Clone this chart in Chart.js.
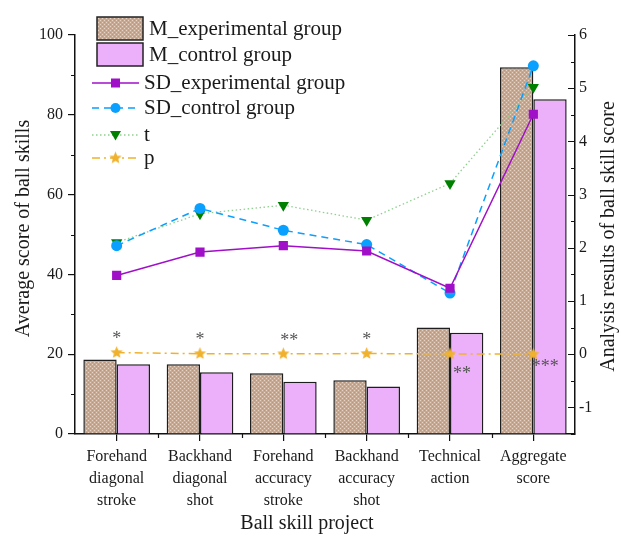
<!DOCTYPE html>
<html>
<head>
<meta charset="utf-8">
<script src="https://cdn.jsdelivr.net/npm/chart.js@4.4.1/dist/chart.umd.min.js"></script>
<style>
  html, body { margin: 0; padding: 0; background: #fff; }
</style>
</head>
<body>
<canvas id="chart" width="621" height="536"></canvas>
<script>
// Data
const categories = [
    ['Forehand', 'diagonal', 'stroke'],
    ['Backhand', 'diagonal', 'shot'],
    ['Forehand', 'accuracy', 'stroke'],
    ['Backhand', 'accuracy', 'shot'],
    ['Technical', 'action'],
    ['Aggregate', 'score']
];
const mExperimental = [18.7, 17.5, 15.2, 13.5, 26.7, 91.9];
const mControl = [17.5, 15.5, 13.1, 11.9, 25.4, 83.9];
const sdExperimental = [1.48, 1.92, 2.04, 1.94, 1.24, 4.51];
const sdControl = [2.04, 2.74, 2.33, 2.06, 1.15, 5.42];
const tValues = [2.10, 2.64, 2.80, 2.52, 3.21, 5.02];
const pValues = [0.03, 0.01, 0.008, 0.012, 0.006, 0.001];
const sigMarks = ['*', '*', '**', '*', '**', '***'];

const FONT = "'Liberation Serif', 'Times New Roman', serif";
const COL_SD_EXP = '#a010c8';
const COL_SD_CTRL = '#0aa0ff';
const COL_T_LINE = '#8fd08f';
const COL_T_MARK = '#008000';
const COL_P = '#f0b22e';
const COL_CTRL_BAR = '#ecb0fa';

// Textured tan fill for the experimental bars
function makeTexture() {
    let c = document.createElement('canvas');
    c.width = 4; c.height = 4;
    let g = c.getContext('2d');
    g.fillStyle = '#caa890';
    g.fillRect(0, 0, 4, 4);
    g.fillStyle = '#e6d4c6';
    g.fillRect(0, 0, 1, 1);
    g.fillRect(2, 2, 1, 1);
    g.fillStyle = '#b9977e';
    g.fillRect(2, 0, 1, 1);
    g.fillRect(0, 2, 1, 1);
    return g.createPattern(c, 'repeat');
}

function starPath(g, cx, cy, ro, ri) {
    g.beginPath();
    for (let i = 0; i < 10; i++) {
        let r = i % 2 === 0 ? ro : ri;
        let a = -Math.PI / 2 + i * Math.PI / 5;
        let px = cx + r * Math.cos(a), py = cy + r * Math.sin(a);
        if (i === 0) g.moveTo(px, py); else g.lineTo(px, py);
    }
    g.closePath();
}

function makeStar(r, color) {
    let c = document.createElement('canvas');
    let s = Math.ceil(r * 2 + 2);
    c.width = s; c.height = s;
    let g = c.getContext('2d');
    starPath(g, s / 2, s / 2, r, r * 0.45);
    g.fillStyle = color;
    g.fill();
    return c;
}

const texture = makeTexture();
const starImg = makeStar(6.5, COL_P);

// Minor ticks, inward right ticks, annotations, axis titles and legend
const extras = {
    id: 'extras',
    afterDraw(chart) {
        const ctx = chart.ctx;
        const xs = chart.scales.x, yl = chart.scales.y, yr = chart.scales.y1;
        const area = chart.chartArea;
        ctx.save();
        ctx.strokeStyle = '#111';
        ctx.lineWidth = 1.2;
        ctx.beginPath();
        // Left minor ticks
        for (let v = 10; v < 100; v += 20) {
            let py = Math.round(yl.getPixelForValue(v)) + 0.5;
            ctx.moveTo(area.left - 4, py); ctx.lineTo(area.left, py);
        }
        // Right ticks pointing inward
        for (let v = -1.5; v <= 6; v += 0.5) {
            let py = Math.round(yr.getPixelForValue(v)) + 0.5;
            let len = Number.isInteger(v) ? 7 : 4;
            ctx.moveTo(area.right - len, py); ctx.lineTo(area.right, py);
        }
        // Bottom minor ticks at category boundaries
        let w = (area.right - area.left) / categories.length;
        for (let i = 1; i < categories.length; i++) {
            let px = Math.round(area.left + i * w) + 0.5;
            ctx.moveTo(px, area.bottom); ctx.lineTo(px, area.bottom + 4);
        }
        ctx.stroke();

        // Significance marks
        ctx.fillStyle = '#555';
        ctx.font = '18px ' + FONT;
        ctx.textAlign = 'center';
        ctx.textBaseline = 'middle';
        sigMarks.forEach((m, i) => {
            let px = xs.getPixelForValue(i);
            let py = yr.getPixelForValue(pValues[i]);
            if (i < 4) {
                ctx.fillText(m, px + (m.length > 1 ? 6 : 0), py - 13);
            } else if (i === 4) {
                ctx.fillText(m, px + 12, py + 20);
            } else {
                ctx.fillText(m, px + 12, py + 13);
            }
        });

        // Axis titles
        ctx.fillStyle = '#1a1a1a';
        ctx.font = '20px ' + FONT;
        ctx.save();
        ctx.translate(24, (area.top + area.bottom) / 2 - 6);
        ctx.rotate(-Math.PI / 2);
        ctx.fillText('Average score of ball skills', 0, 0);
        ctx.restore();
        ctx.save();
        ctx.translate(609, (area.top + area.bottom) / 2 + 2);
        ctx.rotate(-Math.PI / 2);
        ctx.fillText('Analysis results of ball skill score', 0, 0);
        ctx.restore();
        ctx.fillText('Ball skill project', 307, 524);

        // Legend
        ctx.font = '21px ' + FONT;
        ctx.textAlign = 'left';
        ctx.lineWidth = 1.5;
        ctx.strokeStyle = '#222';
        ctx.fillStyle = texture;
        ctx.fillRect(97, 17, 46, 23);
        ctx.strokeRect(97, 17, 46, 23);
        ctx.fillStyle = COL_CTRL_BAR;
        ctx.fillRect(97, 43, 46, 23);
        ctx.strokeRect(97, 43, 46, 23);
        ctx.fillStyle = '#1a1a1a';
        ctx.fillText('M_experimental group', 149, 29);
        ctx.fillText('M_control group', 149, 55);

        const lineItems = [
            { label: 'SD_experimental group', y: 83, color: COL_SD_EXP, dash: [], mark: 'rect' },
            { label: 'SD_control group', y: 108, color: COL_SD_CTRL, dash: [7, 5], mark: 'circle' },
            { label: 't', y: 135, color: COL_T_LINE, dash: [1.5, 2.5], mark: 'tri' },
            { label: 'p', y: 158, color: COL_P, dash: [8, 4, 2, 4], mark: 'star' }
        ];
        for (let it of lineItems) {
            ctx.save();
            ctx.strokeStyle = it.color;
            ctx.lineWidth = 1.5;
            ctx.setLineDash(it.dash);
            ctx.beginPath();
            ctx.moveTo(92, it.y); ctx.lineTo(139, it.y);
            ctx.stroke();
            ctx.restore();
            let cx = 115.5;
            if (it.mark === 'rect') {
                ctx.fillStyle = it.color;
                ctx.fillRect(cx - 4.5, it.y - 4.5, 9, 9);
            } else if (it.mark === 'circle') {
                ctx.fillStyle = it.color;
                ctx.beginPath(); ctx.arc(cx, it.y, 5, 0, Math.PI * 2); ctx.fill();
            } else if (it.mark === 'tri') {
                ctx.fillStyle = COL_T_MARK;
                ctx.beginPath();
                ctx.moveTo(cx - 5.5, it.y - 4); ctx.lineTo(cx + 5.5, it.y - 4); ctx.lineTo(cx, it.y + 5.5);
                ctx.closePath(); ctx.fill();
            } else {
                ctx.drawImage(starImg, cx - starImg.width / 2, it.y - starImg.height / 2);
            }
            ctx.fillStyle = '#1a1a1a';
            ctx.fillText(it.label, 144, it.y);
        }
        ctx.restore();
    }
};

const ctx = document.getElementById('chart');
new Chart(ctx, {
    type: 'bar',
    data: {
        labels: categories,
        datasets: [
            {
                label: 'SD_experimental group', type: 'line', data: sdExperimental, yAxisID: 'y1', order: 0,
                borderColor: COL_SD_EXP, backgroundColor: COL_SD_EXP, borderWidth: 1.5,
                pointStyle: 'rect', pointRadius: 6.5, pointBorderWidth: 0
            },
            {
                label: 'SD_control group', type: 'line', data: sdControl, yAxisID: 'y1', order: 0,
                borderColor: COL_SD_CTRL, backgroundColor: COL_SD_CTRL, borderWidth: 1.5, borderDash: [7, 5],
                pointStyle: 'circle', pointRadius: 5.5, pointBorderWidth: 0
            },
            {
                label: 't', type: 'line', data: tValues, yAxisID: 'y1', order: 0,
                borderColor: COL_T_LINE, backgroundColor: COL_T_MARK, borderWidth: 1.3, borderDash: [1.5, 2.5],
                pointStyle: 'triangle', pointRotation: 180, pointRadius: 6.5, pointBorderWidth: 0
            },
            {
                label: 'p', type: 'line', data: pValues, yAxisID: 'y1', order: 0,
                borderColor: COL_P, backgroundColor: COL_P, borderWidth: 1.5, borderDash: [8, 4, 2, 4],
                pointStyle: starImg
            },
            {
                label: 'M_experimental group', data: mExperimental, yAxisID: 'y', order: 1,
                backgroundColor: texture, borderColor: '#1e1e1e', borderWidth: 1.5,
                categoryPercentage: 0.8, barPercentage: 1.0
            },
            {
                label: 'M_control group', data: mControl, yAxisID: 'y', order: 1,
                backgroundColor: COL_CTRL_BAR, borderColor: '#1e1e1e', borderWidth: 1.5,
                categoryPercentage: 0.8, barPercentage: 1.0
            }
        ]
    },
    options: {
        responsive: false,
        animation: false,
        layout: { padding: { top: 35, left: 0, right: 0, bottom: 0 } },
        plugins: { legend: { display: false }, tooltip: { enabled: false } },
        scales: {
            x: {
                offset: true,
                grid: { display: true, drawOnChartArea: false, drawTicks: true, tickLength: 7, offset: false, color: '#111', lineWidth: 1.2 },
                border: { display: true, color: '#111', width: 1.5 },
                ticks: { font: { family: FONT, size: 16, lineHeight: 1.375 }, color: '#1a1a1a', padding: 5, maxRotation: 0, autoSkip: false },
                afterFit(scale) { scale.height = 102; }
            },
            y: {
                position: 'left',
                min: 0, max: 100,
                grid: {
                    display: true, drawOnChartArea: false, drawTicks: true, tickLength: 7, lineWidth: 1.2,
                    tickColor: c => (c.tick && c.tick.value % 20 === 0) ? '#111' : 'rgba(0,0,0,0)'
                },
                border: { display: true, color: '#111', width: 1.5 },
                ticks: {
                    stepSize: 10, padding: 5, color: '#1a1a1a', font: { family: FONT, size: 16 },
                    callback: v => v % 20 === 0 ? v : ''
                },
                afterFit(scale) { scale.width = 75; }
            },
            y1: {
                position: 'right',
                min: -1.5, max: 6,
                grid: { display: true, drawOnChartArea: false, drawTicks: false, tickLength: 0 },
                border: { display: true, color: '#111', width: 1.5 },
                ticks: {
                    stepSize: 0.5, padding: 4, color: '#1a1a1a', font: { family: FONT, size: 16 },
                    callback: v => Number.isInteger(v) ? v : ''
                },
                afterFit(scale) { scale.width = 46; }
            }
        }
    },
    plugins: [extras]
});
</script>
</body>
</html>
